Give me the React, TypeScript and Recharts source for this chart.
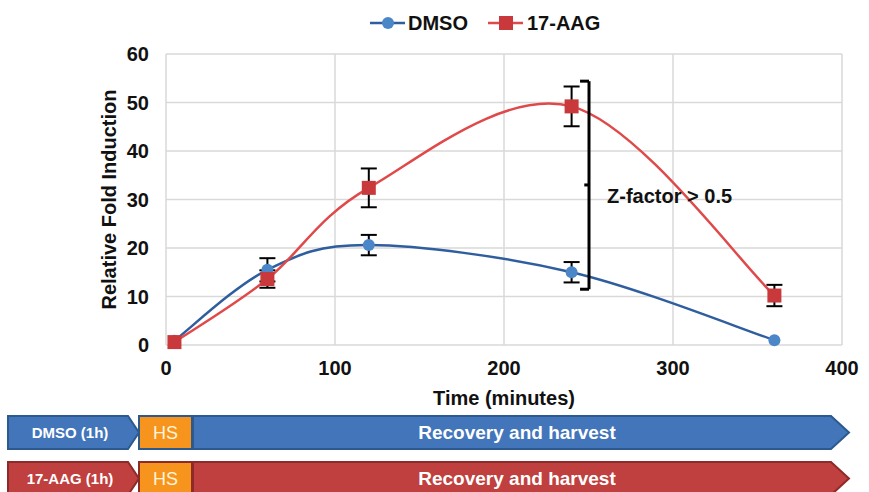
import React from "react";
import {
  LineChart,
  Line,
  XAxis,
  YAxis,
  CartesianGrid,
  ErrorBar,
  Legend,
  ReferenceLine,
  ReferenceDot,
} from "recharts";

// ---- data ----
const times = [5, 60, 120, 240, 360];
const dmsoValues = [0.9, 15.5, 20.6, 15.0, 1.0];
const dmsoErrors = [0, 2.4, 2.1, 2.1, 0];
const aagValues = [0.6, 13.6, 32.4, 49.2, 10.2];
const aagErrors = [0, 1.8, 4.0, 4.1, 2.2];
const xTicks = [0, 100, 200, 300, 400];
const yTicks = [0, 10, 20, 30, 40, 50, 60];
const seriesNames = ["DMSO", "17-AAG"];
const bannerLabels = ["DMSO (1h)", "17-AAG (1h)"];
const stepLabels = ["HS", "Recovery and harvest"];
const annotationText = "Z-factor > 0.5";

const data = times.map((t, i) => ({
  t,
  dmso: dmsoValues[i],
  dmsoErr: dmsoErrors[i],
  aag: aagValues[i],
  aagErr: aagErrors[i],
}));

const FONT = "'Liberation Sans', Arial, sans-serif";
const DMSO_LINE = "#2E5E9E";
const DMSO_MARK = "#4A86C8";
const AAG_LINE = "#E0494A";
const AAG_MARK = "#C9393B";

// Excel-like smoothed line (Catmull-Rom style Bezier)
const excelCurve = (context: any) => {
  let pts: number[][] = [];
  return {
    areaStart() {},
    areaEnd() {},
    lineStart() {
      pts = [];
    },
    point(x: number, y: number) {
      pts.push([+x, +y]);
    },
    lineEnd() {
      const n = pts.length;
      if (!n) return;
      context.moveTo(pts[0][0], pts[0][1]);
      for (let i = 0; i < n - 1; i++) {
        const p0 = pts[Math.max(i - 1, 0)];
        const p1 = pts[i];
        const p2 = pts[i + 1];
        const p3 = pts[Math.min(i + 2, n - 1)];
        const c1x = p1[0] + (p2[0] - p0[0]) / 6;
        const c1y = p1[1] + (p2[1] - p0[1]) / 6;
        const c2x = p2[0] - (p3[0] - p1[0]) / 6;
        const c2y = p2[1] - (p3[1] - p1[1]) / 6;
        context.bezierCurveTo(c1x, c1y, c2x, c2y, p2[0], p2[1]);
      }
    },
  };
};

const SquareDot = (props: any) => {
  const { cx, cy } = props;
  if (cx == null || cy == null) return null;
  return <rect x={cx - 7} y={cy - 7} width={14} height={14} fill={AAG_MARK} />;
};

const CircleDot = (props: any) => {
  const { cx, cy } = props;
  if (cx == null || cy == null) return null;
  return <circle cx={cx} cy={cy} r={6} fill={DMSO_MARK} />;
};

const renderLegend = () => (
  <svg width={270} height={30} style={{ overflow: "visible" }}>
    <line x1={10} x2={45} y1={15} y2={15} stroke={DMSO_LINE} strokeWidth={2.5} />
    <circle cx={28} cy={15} r={6} fill={DMSO_MARK} />
    <text x={48} y={22} fontFamily={FONT} fontWeight="bold" fontSize={20} fill="#111">
      {seriesNames[0]}
    </text>
    <line x1={128} x2={163} y1={15} y2={15} stroke={AAG_LINE} strokeWidth={2.5} />
    <rect x={139} y={8} width={14} height={14} fill={AAG_MARK} />
    <text x={167} y={22} fontFamily={FONT} fontWeight="bold" fontSize={20} fill="#111">
      {seriesNames[1]}
    </text>
  </svg>
);

const Banner = ({ top, fill, stroke, label }: any) => {
  const h = 33;
  const mid = top + h / 2;
  return (
    <g>
      <polygon
        points={`8,${top} 128,${top} 139,${mid} 128,${top + h} 8,${top + h}`}
        fill={fill}
        stroke={stroke}
        strokeWidth={2}
      />
      <text x={70} y={mid + 5.5} textAnchor="middle" fontFamily={FONT} fontWeight="bold" fontSize={15} fill="#fff">
        {label}
      </text>
      <polygon
        points={`193,${top} 831,${top} 849,${mid} 831,${top + h} 193,${top + h}`}
        fill={fill}
        stroke={stroke}
        strokeWidth={2}
      />
      <text x={517} y={mid + 6.5} textAnchor="middle" fontFamily={FONT} fontWeight="bold" fontSize={19} fill="#fff">
        {stepLabels[1]}
      </text>
      <rect x={139} y={top} width={53} height={h} fill="#F7941D" stroke={stroke} strokeWidth={2} />
      <text x={165.5} y={mid + 6.5} textAnchor="middle" fontFamily={FONT} fontSize={18} fill="#FFF4DC">
        {stepLabels[0]}
      </text>
    </g>
  );
};

export default function App() {
  const tickStyle = { fontFamily: FONT, fontWeight: "bold", fontSize: 20, fill: "#111" };
  return (
    <div style={{ position: "absolute", left: 0, top: 0, width: 869, height: 492, background: "#fff" }}>
      <LineChart
        width={869}
        height={492}
        data={data}
        margin={{ top: 54, right: 27, bottom: 87, left: 0 }}
      >
        <CartesianGrid stroke="#D9D9D9" strokeWidth={1.5} />
        <XAxis
          dataKey="t"
          type="number"
          domain={[0, 400]}
          ticks={xTicks}
          axisLine={false}
          tickLine={false}
          tickMargin={10}
          height={60}
          tick={tickStyle}
          label={{
            value: "Time (minutes)",
            position: "insideBottom",
            offset: 0,
            style: { fontFamily: FONT, fontWeight: "bold", fontSize: 20, fill: "#111" },
          }}
        />
        <YAxis
          type="number"
          domain={[0, 60]}
          ticks={yTicks}
          axisLine={false}
          tickLine={false}
          tickMargin={11}
          width={166}
          tick={tickStyle}
          label={{
            value: "Relative Fold Induction",
            angle: -90,
            position: "insideLeft",
            offset: 109,
            style: { textAnchor: "middle", fontFamily: FONT, fontWeight: "bold", fontSize: 20, fill: "#111" },
          }}
        />
        <Legend
          verticalAlign="middle"
          align="center"
          layout="horizontal"
          content={renderLegend}
          wrapperStyle={{ top: 8, left: 360, width: 270, height: 30 }}
        />
        <Line
          dataKey="dmso"
          name={seriesNames[0]}
          type={excelCurve as any}
          stroke={DMSO_LINE}
          strokeWidth={2.5}
          dot={<CircleDot />}
          activeDot={false}
          isAnimationActive={false}
        >
          <ErrorBar dataKey="dmsoErr" width={8} stroke="#000" strokeWidth={2} direction="y" />
        </Line>
        <Line
          dataKey="aag"
          name={seriesNames[1]}
          type={excelCurve as any}
          stroke={AAG_LINE}
          strokeWidth={2.5}
          dot={<SquareDot />}
          activeDot={false}
          isAnimationActive={false}
        >
          <ErrorBar dataKey="aagErr" width={8} stroke="#000" strokeWidth={2} direction="y" />
        </Line>
        <ReferenceLine segment={[{ x: 250.3, y: 54.4 }, { x: 250.3, y: 11.5 }]} stroke="#000" strokeWidth={3} />
        <ReferenceLine segment={[{ x: 245, y: 54.4 }, { x: 250.3, y: 54.4 }]} stroke="#000" strokeWidth={3} />
        <ReferenceLine segment={[{ x: 245, y: 11.5 }, { x: 250.3, y: 11.5 }]} stroke="#000" strokeWidth={3} />
        <ReferenceLine segment={[{ x: 247.5, y: 33 }, { x: 250.3, y: 33 }]} stroke="#000" strokeWidth={3} />
        <ReferenceDot
          x={261}
          y={30.7}
          r={0}
          fill="none"
          stroke="none"
          label={{
            value: annotationText,
            position: "right",
            offset: 0,
            style: { fontFamily: FONT, fontWeight: "bold", fontSize: 20, fill: "#111" },
          }}
        />
      </LineChart>
      <svg
        width={869}
        height={492}
        style={{ position: "absolute", left: 0, top: 0, pointerEvents: "none" }}
      >
        <Banner top={416} fill="#4275BA" stroke="#2C5A8E" label={bannerLabels[0]} />
        <Banner top={462} fill="#BF403E" stroke="#8C2B29" label={bannerLabels[1]} />
      </svg>
    </div>
  );
}
